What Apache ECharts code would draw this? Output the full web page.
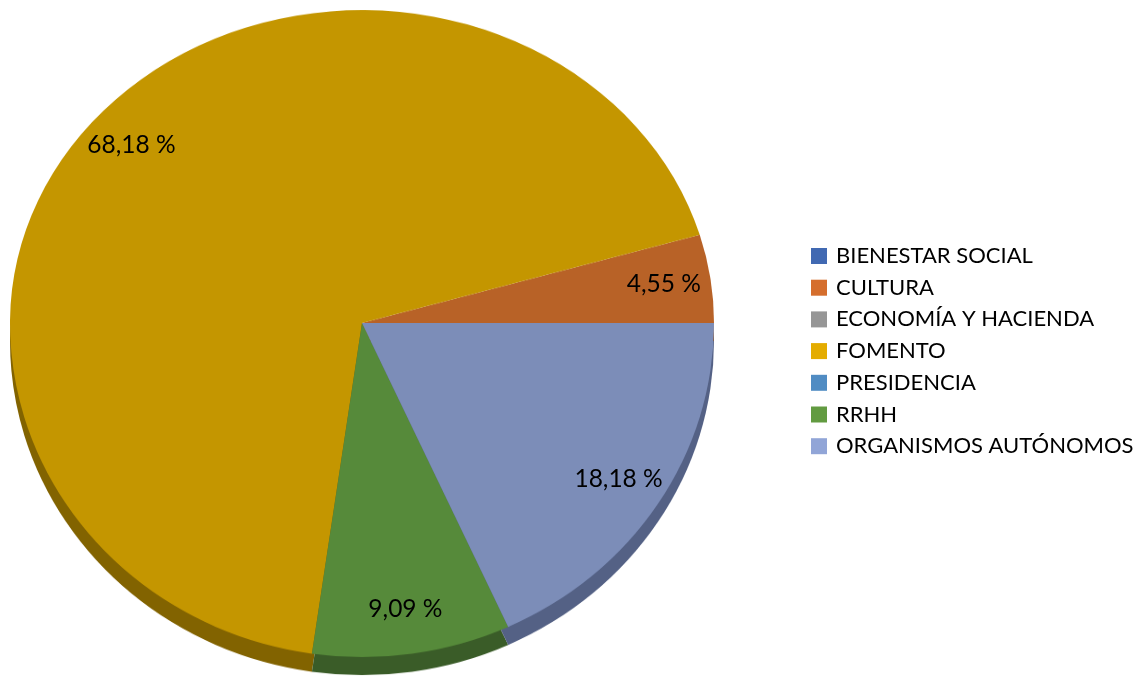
<!DOCTYPE html>
<html>
<head>
<meta charset="utf-8">
<script src="https://cdn.jsdelivr.net/npm/echarts@6/dist/echarts.min.js"></script>
<style>
  html, body { margin: 0; padding: 0; background: #fff; }
  #wrap { position: relative; width: 1143px; height: 680px; overflow: hidden; }
  .pl { position: absolute; left: 0; top: -60px; width: 1143px; height: 800px; transform-origin: 0 383px; }
  #upLayer { transform: scaleY(0.889); clip-path: inset(0 0 417px 0); }
  #downLayer { transform: scaleY(0.949); clip-path: inset(383px 0 0 0); }
  #overLayer { position: absolute; left: 0; top: 0; width: 1143px; height: 680px; }
</style>
</head>
<body>
<div id="wrap">
  <div id="downLayer" class="pl"></div>
  <div id="upLayer" class="pl"></div>
  <div id="overLayer"></div>
</div>
<script>
// ---- data ----
const categories = ['BIENESTAR SOCIAL', 'CULTURA', 'ECONOMÍA Y HACIENDA', 'FOMENTO', 'PRESIDENCIA', 'RRHH', 'ORGANISMOS AUTÓNOMOS'];
const values = [0, 1, 0, 15, 0, 2, 4];

// ---- styles ----
const topColors = ['#4169B2', '#B86227', '#969696', '#C49600', '#508CC3', '#568A3A', '#7C8DB8'];
const sideColors = ['#2F4E85', '#7E431A', '#6A6A6A', '#826300', '#375F86', '#3A5C28', '#546185'];
const legendColors = ['#4169B2', '#D56E2D', '#969696', '#E4AC00', '#508CC3', '#629B41', '#91A5D7'];

const K_UP = 0.889, K_DOWN = 0.949;   // perspective: upper half flatter than lower half
const CX = 362, CY = 323, R = 352, DEPTH = 18;
const LAYER_OFF = 60;                 // layers start 60px above the page
const CYL = CY + LAYER_OFF;

const FONT = 'Lato, "Open Sans", sans-serif';

function topSeries() {
  return {
    type: 'pie', silent: true, z: 2,
    center: [CX, CYL], radius: R,
    startAngle: 0, clockwise: false,
    label: { show: false }, labelLine: { show: false },
    itemStyle: { borderWidth: 0 },
    data: categories.map((n, i) => ({ name: n, value: values[i], itemStyle: { color: topColors[i] } }))
  };
}

const upChart = echarts.init(document.getElementById('upLayer'));
upChart.setOption({ animation: false, series: [topSeries()] });

const downChart = echarts.init(document.getElementById('downLayer'));
downChart.setOption({
  animation: false,
  series: [
    {
      type: 'pie', silent: true, z: 1,
      center: [CX, CYL + DEPTH / K_DOWN], radius: R,
      startAngle: 0, clockwise: false,
      label: { show: false }, labelLine: { show: false },
      itemStyle: { borderWidth: 0 },
      data: categories.map((n, i) => ({ name: n, value: values[i], itemStyle: { color: sideColors[i] } }))
    },
    topSeries()
  ]
});

const overChart = echarts.init(document.getElementById('overLayer'));
overChart.setOption({
  animation: false,
  legend: {
    orient: 'vertical',
    left: 811, top: 244, padding: 0,
    itemWidth: 16, itemHeight: 16, itemGap: 7.7,
    icon: 'rect',
    selectedMode: false,
    textStyle: { fontFamily: FONT, fontSize: 22, color: '#000', lineHeight: 24, padding: [0, 0, 0, 4] },
    data: categories.map((n, i) => ({ name: n, itemStyle: { color: legendColors[i] } }))
  },
  series: [
    {
      type: 'pie', silent: true,
      center: [CX, CY], radius: [252, R],
      startAngle: 0, clockwise: false,
      itemStyle: { color: 'rgba(0,0,0,0)', borderWidth: 0 },
      labelLine: { show: false },
      label: {
        show: true, position: 'inside',
        fontFamily: FONT, fontSize: 24.5, color: '#000',
        formatter: p => p.value > 0 ? p.percent.toFixed(2).replace('.', ',') + ' %' : ''
      },
      labelLayout: function (p) {
        const r = p.labelRect;
        const lx = r.x + r.width / 2;
        const dy = r.y + r.height / 2 - CY;
        const k = dy < 0 ? K_UP : K_DOWN;
        return { x: lx, y: CY + dy * k, align: 'center', verticalAlign: 'middle' };
      },
      data: categories.map((n, i) => ({ name: n, value: values[i] }))
    }
  ]
});
</script>
</body>
</html>
